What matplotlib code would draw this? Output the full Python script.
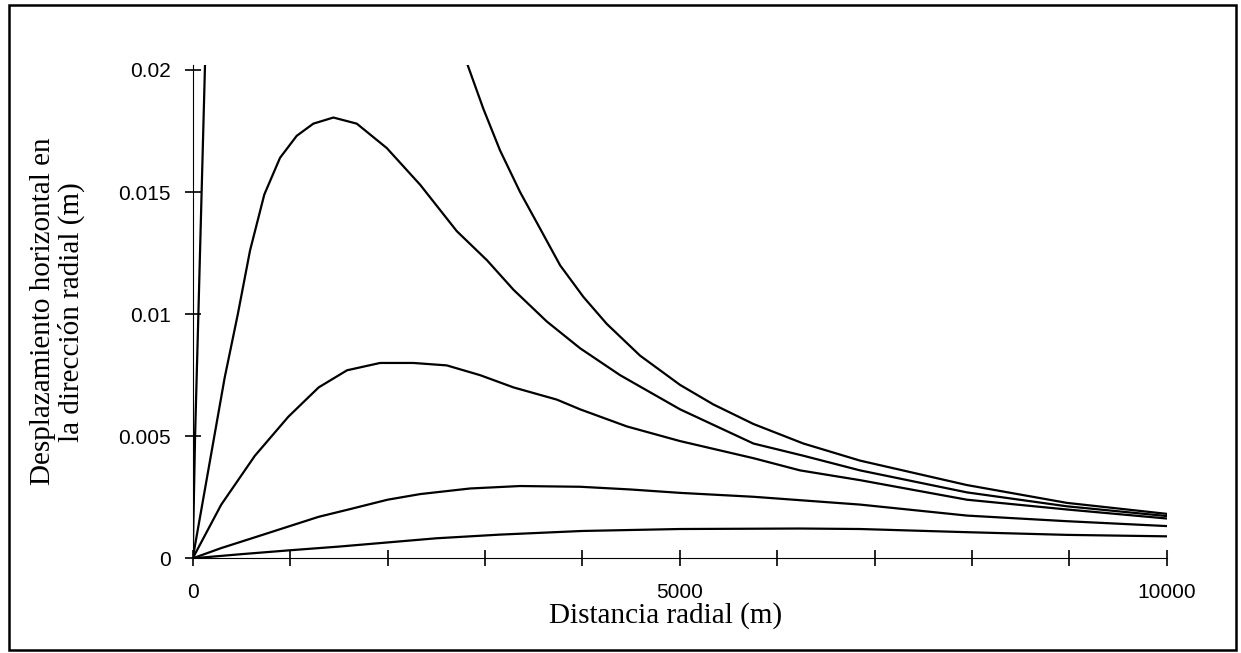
import matplotlib
matplotlib.use("Agg")
import matplotlib.pyplot as plt
from matplotlib.patches import Rectangle

# curves (x in m, horizontal displacement in m)
# curve 1 runs off the top of the chart between ~130 m and ~2800 m
x1 = [0, 24, 58, 126, 250, 600, 1200, 2000, 2600, 2813, 2984, 3155, 3360, 3566,
      3771, 4011, 4250, 4592, 5003, 5345, 5756, 6269, 6851, 7947, 8973, 10000]
y1 = [0, 0.005, 0.010, 0.0202, 0.040, 0.070, 0.060, 0.035, 0.0231, 0.0203, 0.0184,
      0.0167, 0.0150, 0.0135, 0.0120, 0.0107, 0.0096, 0.0083, 0.0071, 0.0063,
      0.0055, 0.0047, 0.0040, 0.0030, 0.00227, 0.00182]

x2 = [0, 328, 463, 588, 735, 896, 1067, 1238, 1444, 1684, 1992, 2334, 2710,
      3022, 3292, 3634, 3977, 4387, 5003, 5756, 6269, 6851, 7947, 8973, 10000]
y2 = [0, 0.0074, 0.0100, 0.0126, 0.0149, 0.0164, 0.0173, 0.0178, 0.01805,
      0.0178, 0.0168, 0.0153, 0.0134, 0.0122, 0.0110, 0.0097, 0.0086, 0.0075,
      0.0061, 0.0047, 0.0042, 0.0036, 0.0027, 0.00213, 0.00173]

x3 = [0, 293, 638, 982, 1293, 1584, 1923, 2265, 2608, 2950, 3292, 3737,
      3977, 4457, 5003, 5756, 6235, 6851, 7947, 8973, 10000]
y3 = [0, 0.0022, 0.0042, 0.0058, 0.0070, 0.0077, 0.0080, 0.0080,
      0.0079, 0.0075, 0.0070, 0.0065, 0.0061, 0.0054, 0.0048, 0.0041, 0.0036,
      0.0032, 0.0024, 0.0020, 0.00163]

x4 = [0, 293, 638, 1293, 1600, 2000, 2334, 2848, 3360, 3977, 4490, 5003, 5756,
      6235, 6851, 7947, 8973, 10000]
y4 = [0, 0.00042, 0.00086, 0.0017, 0.0020, 0.0024, 0.00263, 0.00286, 0.00296,
      0.00293, 0.00282, 0.00268, 0.00252, 0.00238, 0.00220, 0.00175, 0.00152,
      0.00132]

x5 = [0, 500, 1000, 1500, 2000, 2500, 3150, 4000, 5000, 6235, 6851, 7947, 8973,
      10000]
y5 = [0, 0.00017, 0.00033, 0.00048, 0.00065, 0.00082, 0.00097, 0.00112, 0.0012,
      0.00122, 0.0012, 0.00107, 0.00096, 0.0009]

series = [(x1, y1), (x2, y2), (x3, y3), (x4, y4), (x5, y5)]

xticks = list(range(0, 10001, 1000))
xticklabels = ["0", "", "", "", "", "5000", "", "", "", "", "10000"]
yticks = [0, 0.005, 0.01, 0.015, 0.02]
yticklabels = ["0", "0.005", "0.01", "0.015", "0.02"]

fig = plt.figure(figsize=(12.41, 6.53), dpi=100)
ax = fig.add_axes([0.1553, 0.1450, 0.7850, 0.7554])

for xs, ys in series:
    ax.plot(xs, ys, color="black", lw=1.6, solid_joinstyle="round")

ax.set_xlim(0, 10000)
ax.set_ylim(0, 0.0202)
ax.spines["top"].set_visible(False)
ax.spines["right"].set_visible(False)
ax.spines["bottom"].set_bounds(0, 10000)

ax.set_xticks(xticks)
ax.set_xticklabels(xticklabels)
ax.set_yticks(yticks)
ax.set_yticklabels(yticklabels)
ax.tick_params(direction="inout", length=12, width=1.2, labelsize=15,
               colors="black")
ax.tick_params(axis="x", pad=12)
ax.tick_params(axis="y", pad=10)
for lab in ax.get_xticklabels() + ax.get_yticklabels():
    lab.set_family("Liberation Sans")

ax.set_xlabel("Distancia radial (m)", family="Liberation Serif", fontsize=21,
              labelpad=0, x=0.485)
ax.set_ylabel("Desplazamiento horizontal en\nla dirección radial (m)",
              family="Liberation Serif", fontsize=21, labelpad=24,
              linespacing=1.05)

# outer frame round the whole figure
fig.patches.append(Rectangle((0.007, 0.004), 0.989, 0.988, transform=fig.transFigure,
                             fill=False, lw=1.8, ec="black"))

fig.savefig("out.png", dpi=100)
